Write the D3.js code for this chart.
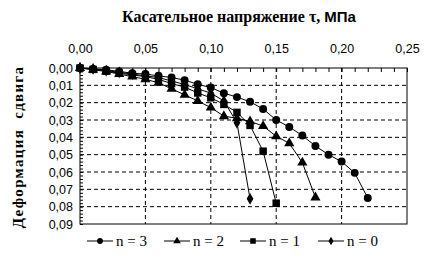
<!DOCTYPE html>
<html><head><meta charset="utf-8">
<script src="https://cdn.jsdelivr.net/npm/d3@7"></script>
<style>body{margin:0;background:#fff}svg{display:block}</style>
</head><body>
<script>
const tau = [0,0.01,0.02,0.03,0.04,0.05,0.06,0.07,0.08,0.09,0.10,0.11,0.12,0.13,0.14,0.15,0.16,0.17,0.18,0.19,0.20,0.21,0.22];
const n3 = [0,0.0005,0.001,0.002,0.003,0.0035,0.0045,0.0055,0.007,0.0094,0.0113,0.0145,0.0168,0.0195,0.0236,0.030,0.034,0.039,0.045,0.050,0.054,0.0605,0.075];
const n2 = [0,0.001,0.002,0.0035,0.005,0.0065,0.0085,0.012,0.0155,0.019,0.0228,0.0278,0.029,0.0308,0.0335,0.0394,0.0434,0.0546,0.0747];
const n1 = [0,0.0008,0.0018,0.003,0.004,0.005,0.0065,0.009,0.011,0.0144,0.0172,0.021,0.0256,0.0331,0.048,0.078];
const n0 = [0,0.0005,0.0015,0.0025,0.0035,0.0045,0.0055,0.0075,0.0095,0.012,0.0145,0.019,0.0316,0.0755];
const seriesNames = ["n = 3","n = 2","n = 1","n = 0"];
const seriesSymbols = ["circle","triangle","square","diamond"];
const xTicks = [0,0.05,0.10,0.15,0.20,0.25];
const yTicks = [0,0.01,0.02,0.03,0.04,0.05,0.06,0.07,0.08,0.09];
const title = "Касательное напряжение τ, ";
const titleUnit = "МПа";
const yTitle = "Деформация  сдвига";

const SERIF="Liberation Serif";
const SANS="Liberation Sans";
const W=438,H=266;
const svg=d3.select("body").append("svg").attr("width",W).attr("height",H);
const L=80,R=407,T=68,B=224;
const x=d3.scaleLinear().domain([0,0.25]).range([L,R]);
const y=d3.scaleLinear().domain([0,0.09]).range([T,B]);
const fmt=d=>d3.format(".2f")(d).replace(".",",");

// grid
svg.append("g").selectAll("line").data(xTicks.slice(1,-1)).join("line")
 .attr("x1",d=>x(d)).attr("x2",d=>x(d)).attr("y1",T).attr("y2",B)
 .attr("stroke","#000").attr("stroke-dasharray","4,3");
svg.append("g").selectAll("line").data(yTicks.slice(1,-1)).join("line")
 .attr("y1",d=>y(d)).attr("y2",d=>y(d)).attr("x1",L).attr("x2",R)
 .attr("stroke","#000").attr("stroke-dasharray","4,3");
svg.append("rect").attr("x",L).attr("y",T).attr("width",R-L).attr("height",B-T)
 .attr("fill","none").attr("stroke","#000");

// axes
const xa=svg.append("g").attr("transform",`translate(0,${T})`)
 .call(d3.axisTop(x).tickValues(xTicks).tickFormat(fmt).tickSize(0).tickPadding(15));
const xm=svg.append("g").attr("transform",`translate(0,${T})`)
 .call(d3.axisBottom(x).tickValues(d3.range(0,0.2501,0.01)).tickFormat("").tickSize(4));
const ya=svg.append("g").attr("transform",`translate(${L},0)`)
 .call(d3.axisLeft(y).tickValues(yTicks).tickFormat(fmt).tickSize(0).tickPadding(7));
const ym=svg.append("g").attr("transform",`translate(${L},0)`)
 .call(d3.axisRight(y).tickValues(d3.range(0,0.0901,0.002)).tickFormat("").tickSize(3));
[xa,xm,ya,ym].forEach(g=>{g.select(".domain").remove();g.selectAll("line").attr("stroke","#000");});
[xa,ya].forEach(g=>{g.attr("font-family",SANS).attr("font-size",12.5);g.selectAll("text").attr("fill","#000");});

// titles
const tt=svg.append("text").attr("x",239).attr("y",22).attr("text-anchor","middle")
 .attr("font-family",SERIF).attr("font-weight","bold").attr("font-size",16);
tt.append("tspan").text(title);
tt.append("tspan").attr("font-family",SANS).attr("font-size",15).text(titleUnit);
svg.append("text").attr("transform","translate(23,147) rotate(-90)").attr("text-anchor","middle")
 .attr("font-family",SERIF).attr("font-weight","bold").attr("font-size",15)
 .attr("letter-spacing",1.3).style("white-space","pre").text(yTitle);

// series
const data=[n3,n2,n1,n0].map((v,i)=>({name:seriesNames[i],sym:seriesSymbols[i],pts:v.map((d,j)=>[tau[j],d])}));
const symMap={circle:d3.symbolCircle,triangle:d3.symbolTriangle,square:d3.symbolSquare,diamond:d3.symbolDiamond};
const symSize={circle:50,triangle:45,square:56,diamond:40};
const line=d3.line().x(d=>x(d[0])).y(d=>y(d[1]));
data.forEach(s=>{
 svg.append("path").attr("d",line(s.pts)).attr("fill","none").attr("stroke","#000").attr("stroke-width",1);
});
data.forEach(s=>{
 svg.append("g").selectAll("path").data(s.pts).join("path")
  .attr("transform",d=>`translate(${x(d[0])},${y(d[1])})`)
  .attr("d",d3.symbol().type(symMap[s.sym]).size(symSize[s.sym])).attr("fill","#000");
});

// legend
const legX=[87,164,240,318];
const lg=svg.append("g");
data.forEach((s,i)=>{
 const g=lg.append("g").attr("transform",`translate(${legX[i]},241)`);
 g.append("line").attr("x1",0).attr("x2",26).attr("stroke","#000");
 g.append("path").attr("transform","translate(13,0)")
  .attr("d",d3.symbol().type(symMap[s.sym]).size(symSize[s.sym]*0.55)).attr("fill","#000");
 g.append("text").attr("x",29).attr("y",5).attr("font-family",SERIF).attr("font-size",15).text(s.name);
});
</script>
</body></html>
